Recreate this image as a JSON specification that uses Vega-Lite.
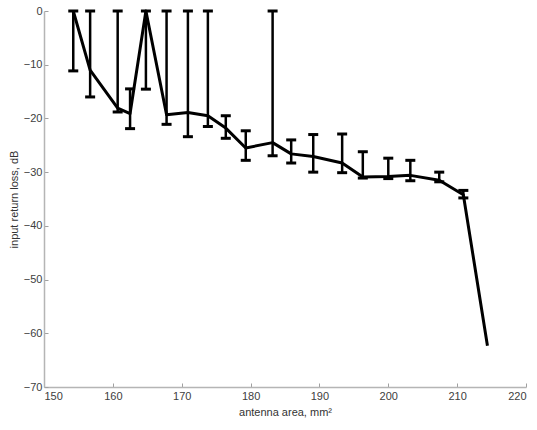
{
  "$schema": "https://vega.github.io/schema/vega-lite/v6.json",
  "width": 482,
  "height": 376,
  "autosize": {"type": "none"},
  "padding": {"left": 44, "top": 11, "right": 11, "bottom": 43},
  "background": "white",
  "config": {
    "view": {"stroke": null},
    "axis": {
      "grid": false,
      "domainColor": "#b5b5b5",
      "domainWidth": 1.5,
      "tickColor": "#a0a0a0",
      "tickSize": -4,
      "tickWidth": 1,
      "labelFont": "Liberation Sans",
      "labelFontSize": 11,
      "labelColor": "#404040",
      "titleFont": "Liberation Sans",
      "titleFontSize": 11,
      "titleFontWeight": "normal",
      "titleColor": "#333333"
    }
  },
  "data": {
    "values": [
      {"area": 154.25, "loss": 0, "lo": -11.15, "hi": 0},
      {"area": 156.7, "loss": -11.0, "lo": -16.0, "hi": 0},
      {"area": 160.7, "loss": -18.1, "lo": -18.8, "hi": 0},
      {"area": 162.5, "loss": -19.1, "lo": -21.9, "hi": -14.5},
      {"area": 164.8, "loss": 0, "lo": -14.55, "hi": 0},
      {"area": 167.8, "loss": -19.3, "lo": -21.1, "hi": 0},
      {"area": 170.9, "loss": -18.9, "lo": -23.4, "hi": 0},
      {"area": 173.8, "loss": -19.5, "lo": -21.5, "hi": 0},
      {"area": 176.4, "loss": -21.8, "lo": -23.7, "hi": -19.5},
      {"area": 179.3, "loss": -25.5, "lo": -27.8, "hi": -22.3},
      {"area": 183.2, "loss": -24.5, "lo": -26.95, "hi": 0},
      {"area": 185.9, "loss": -26.6, "lo": -28.3, "hi": -24.0},
      {"area": 189.1, "loss": -27.1, "lo": -30.0, "hi": -23.0},
      {"area": 193.3, "loss": -28.3, "lo": -30.1, "hi": -22.9},
      {"area": 196.3, "loss": -30.9, "lo": -31.1, "hi": -26.2},
      {"area": 200.0, "loss": -30.8, "lo": -31.2, "hi": -27.4},
      {"area": 203.2, "loss": -30.6, "lo": -31.6, "hi": -27.8},
      {"area": 207.4, "loss": -31.5, "lo": -31.8, "hi": -30.0},
      {"area": 210.9, "loss": -34.2, "lo": -34.8, "hi": -33.4},
      {"area": 214.4, "loss": -62.3, "lo": null, "hi": null}
    ]
  },
  "encoding": {
    "x": {
      "field": "area",
      "type": "quantitative",
      "scale": {"domain": [150, 220], "nice": false, "zero": false},
      "axis": {"values": [150, 160, 170, 180, 190, 200, 210, 220], "title": "antenna area, mm²", "labelPadding": 7, "titlePadding": 5}
    }
  },
  "layer": [
    {
      "transform": [{"filter": "datum.lo != null"}],
      "mark": {"type": "rule", "color": "black", "strokeWidth": 2.5},
      "encoding": {
        "y": {"field": "lo", "type": "quantitative"},
        "y2": {"field": "hi"}
      }
    },
    {
      "transform": [{"filter": "datum.lo != null"}],
      "mark": {"type": "tick", "orient": "horizontal", "color": "black", "size": 10, "thickness": 3, "opacity": 1},
      "encoding": {"y": {"field": "lo", "type": "quantitative"}}
    },
    {
      "transform": [{"filter": "datum.lo != null"}],
      "mark": {"type": "tick", "orient": "horizontal", "color": "black", "size": 10, "thickness": 3, "opacity": 1},
      "encoding": {"y": {"field": "hi", "type": "quantitative"}}
    },
    {
      "mark": {"type": "line", "color": "black", "strokeWidth": 3, "strokeJoin": "round"},
      "encoding": {
        "y": {
          "field": "loss",
          "type": "quantitative",
          "scale": {"domain": [-70, 0], "nice": false, "zero": false},
          "axis": {"values": [-70, -60, -50, -40, -30, -20, -10, 0], "title": "input return loss, dB", "labelPadding": 6, "titlePadding": 4}
        }
      }
    }
  ],
  "resolve": {"scale": {"y": "shared"}}
}
